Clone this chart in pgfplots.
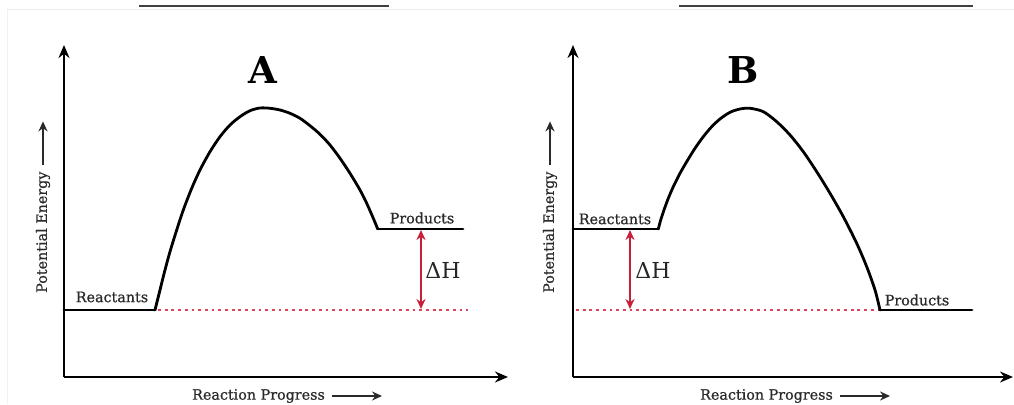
\documentclass[border=0pt]{standalone}
\usepackage{pgfplots}
\pgfplotsset{compat=1.18}
\usetikzlibrary{arrows.meta,calc}
\usepackage{fontspec}
\setmainfont{DejaVu Serif}
\newfontfamily\heavy{DejaVu Serif}[FakeBold=0.7]
\definecolor{dhred}{HTML}{C81E3A}
\definecolor{dotred}{HTML}{D9455A}
\definecolor{txt}{HTML}{2A2A2A}
\newcommand{\lblfont}{\heavy\fontsize{14.3}{16}\selectfont}
\pgfplotsset{rxn/.style={
  scale only axis, axis lines=left, clip=false,
  axis line style={line width=2.8pt, -{Stealth[length=13pt,width=11pt]}},
  xtick=\empty, ytick=\empty, ymin=27, ymax=359, height=332pt,
  every axis plot/.append style={line cap=round, line join=round},
}}
\tikzset{lblarrow/.style={txt, line width=2.2pt, -{Stealth[length=10pt,width=9pt]}}}
\begin{document}
\begin{tikzpicture}[x=1pt,y=1pt]
\useasboundingbox (0,0) rectangle (1014,404);
\fill[white] (0,0) rectangle (1014,404);
\draw[black!8, line width=1pt] (7,394)--(1014,394);
\draw[black!5, line width=0.8pt] (7,394)--(7,0);
\draw[black!75, line width=2.2pt] (139,398.3)--(389,398.3);
\draw[black!75, line width=2.2pt] (679,398.3)--(973,398.3);
% Panel A
\begin{axis}[rxn, at={(64pt,27pt)}, anchor=south west, width=444pt, xmin=64, xmax=508]
\addplot[dotred, line width=2.5pt, dash pattern=on 2.8pt off 3.9pt, line cap=butt] coordinates {(158,94) (468,94)};
\addplot[black, line width=2.8pt] coordinates {(64,94) (155,94)};
\addplot[black, line width=2.8pt, smooth] coordinates {(155,94) (160,114) (165,134) (170,152.3) (176.7,174) (183.3,194) (191.7,215.7) (200,234) (210,252.3) (220,267.3) (230,279) (240,287.3) (250,293.3) (260,296) (270,295.7) (280,294) (290,290.7) (300,285.7) (310,278.3) (320,269.7) (330,259) (340,245.7) (350,230.7) (360,214) (366.7,200.7) (373.3,185.7) (377.7,175)};
\addplot[black, line width=2.8pt] coordinates {(377.7,175) (463,175)};
\addplot[dhred, line width=2.4pt, line cap=butt, {Stealth[length=10pt,width=9pt]}-{Stealth[length=10pt,width=9pt]}] coordinates {(421,174) (421,95)};
\node[txt, font=\lblfont] at (axis cs:112,107) {Reactants};
\node[txt, font=\lblfont] at (axis cs:422,186) {Products};
\node[black!85, font=\fontsize{22}{24}\selectfont] at (axis cs:443,134) {ΔH};
\node[black, font=\fontsize{37}{40}\selectfont\bfseries] at (axis cs:263,334) {A};
\node[txt, font=\lblfont, rotate=90, anchor=west, inner sep=0pt] (ylA) at (axis cs:43,111) {Potential Energy};
\node[txt, font=\lblfont, anchor=west, inner sep=0pt] (xlA) at (axis cs:192,8) {Reaction Progress};
\end{axis}
% Panel B
\begin{axis}[rxn, at={(573pt,27pt)}, anchor=south west, width=440pt, xmin=573, xmax=1013]
\addplot[dotred, line width=2.5pt, dash pattern=on 2.8pt off 3.9pt, line cap=butt] coordinates {(576,94) (880,94)};
\addplot[black, line width=2.8pt] coordinates {(573,175) (658.3,175)};
\addplot[black, line width=2.8pt, smooth] coordinates {(658.3,175) (660.7,184) (664,194) (668.3,205.7) (673.3,217.3) (680,230.7) (686.7,242.3) (695,255.7) (703.3,267.3) (711.7,277.3) (720,285) (730,291.7) (740,295) (750,295.7) (763.3,292.3) (776.7,282.3) (790,269) (803.3,252.3) (816.7,232.3) (830,210.7) (843.3,187.3) (856.7,160.7) (866.7,137.3) (875,114) (880,94)};
\addplot[black, line width=2.8pt] coordinates {(880,94) (972,94)};
\addplot[dhred, line width=2.4pt, line cap=butt, {Stealth[length=10pt,width=9pt]}-{Stealth[length=10pt,width=9pt]}] coordinates {(630,174) (630,95)};
\node[txt, font=\lblfont] at (axis cs:615,185) {Reactants};
\node[txt, font=\lblfont] at (axis cs:917,104) {Products};
\node[black!85, font=\fontsize{22}{24}\selectfont] at (axis cs:653,134) {ΔH};
\node[black, font=\fontsize{37}{40}\selectfont\bfseries] at (axis cs:743,334) {B};
\node[txt, font=\lblfont, rotate=90, anchor=west, inner sep=0pt] (ylB) at (axis cs:550,111) {Potential Energy};
\node[txt, font=\lblfont, anchor=west, inner sep=0pt] (xlB) at (axis cs:700,8) {Reaction Progress};
\end{axis}
\draw[lblarrow] ($(ylA.east)+(0pt,6pt)$) -- ++(0pt,44pt);
\draw[lblarrow] ($(xlA.east)+(7pt,0pt)$) -- ++(50pt,0pt);
\draw[lblarrow] ($(ylB.east)+(0pt,6pt)$) -- ++(0pt,44pt);
\draw[lblarrow] ($(xlB.east)+(7pt,0pt)$) -- ++(50pt,0pt);
\end{tikzpicture}
\end{document}
